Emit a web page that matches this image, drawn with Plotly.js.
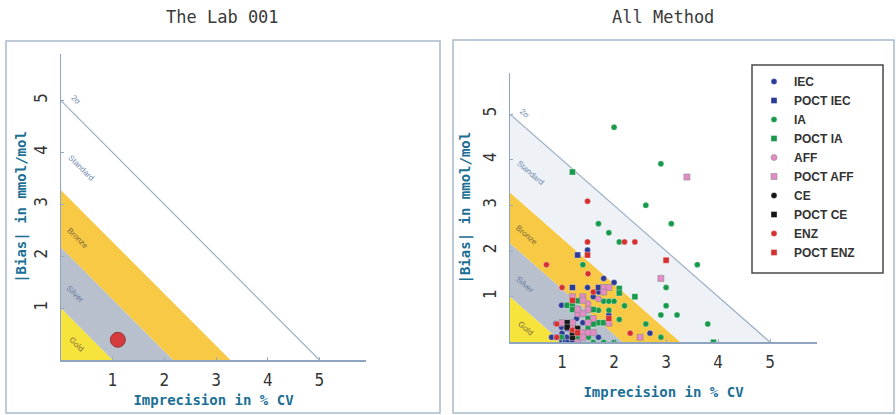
<!DOCTYPE html>
<html><head><meta charset="utf-8">
<script src="https://cdn.plot.ly/plotly-3.0.1.min.js"></script>
<style>body{margin:0;background:#fff}#chart{width:896px;height:415px}</style>
</head><body><div id="chart"></div>
<script>
// ---- data ----
const panelTitles = ["The Lab 001", "All Method"];
const xTitle = "Imprecision in % CV";
const yTitle = "|Bias| in mmol/mol";
const tickVals = [1, 2, 3, 4, 5];
const bandNames = ["Gold", "Silver", "Bronze", "Standard"];
const bandLimits = [1.0, 2.17, 3.28, 5.0];
const sigmaLabel = "2σ";

const labX = [1.10];
const labY = [0.39];

const iecX = [1.49, 1.8, 2.0, 2.69, 1.49, 1.7, 1.6, 0.99, 1.09, 0.88, 0.99, 1.28, 1.4, 0.8, 0.99, 1.09, 1.4, 1.7, 1.9, 1.9, 1.3, 1.0, 1.1, 1.2];
const iecY = [2.02, 1.4, 1.31, 0.2, 1.2, 1.1, 1.0, 0.81, 0.81, 0.41, 0.33, 0.52, 0.43, 0.11, 0.11, 0.11, 0.11, 0.11, 0.6, 0.5, 0.3, 0.2, 0.0, 0.0];
const poctIecX = [1.3, 1.2, 1.7, 0.9, 1.1, 1.0];
const poctIecY = [1.91, 1.2, 1.2, 0.11, 0.3, 0.05];
const iaX = [2.0, 2.9, 2.61, 3.1, 1.7, 1.9, 2.1, 3.6, 1.4, 3.0, 3.0, 2.9, 3.21, 3.8, 2.2, 2.1, 2.61, 2.9, 1.8, 2.0, 1.8, 1.9, 2.0, 1.7, 1.9, 0.99, 1.51, 1.6];
const iaY = [4.71, 3.91, 3.0, 2.6, 2.6, 2.4, 2.2, 1.7, 1.7, 1.2, 0.8, 0.6, 0.6, 0.4, 0.8, 0.5, 0.4, 0.11, 0.0, 0.0, 0.9, 0.9, 0.9, 0.7, 0.7, 0.11, 0.11, 0.0];
const poctIaX = [1.2, 2.1, 2.1, 2.4, 1.1, 1.2, 1.2, 1.3, 1.6, 1.5, 1.7, 1.8, 3.91, 1.3, 1.5, 1.3, 1.6];
const poctIaY = [3.73, 1.18, 1.08, 1.0, 0.81, 0.81, 0.72, 0.91, 0.72, 0.52, 0.43, 0.43, 0.0, 0.11, 0.3, 0.0, 0.4];
const affX = [1.5, 0.98, 1.7, 1.3];
const affY = [0.85, 0.41, 0.95, 0.62];
const poctAffX = [3.4, 2.9, 2.5, 1.8, 1.9, 1.8, 1.2, 1.4, 1.4, 1.3, 1.5, 1.4, 1.6, 1.0, 1.2, 1.5, 1.4, 1.5, 1.6, 1.3, 1.2, 1.4, 1.9];
const poctAffY = [3.62, 1.4, 0.11, 1.2, 1.2, 1.1, 1.0, 1.0, 0.92, 0.72, 0.72, 0.63, 0.52, 0.43, 0.43, 0.43, 0.21, 0.21, 0.21, 0.0, 0.3, 0.11, 0.42];
const ceX = [1.2];
const ceY = [0.15];
const poctCeX = [1.1, 1.1, 1.3, 1.3, 1.2, 1.2];
const poctCeY = [0.43, 0.33, 0.3, 0.2, 0.11, 0.21];
const enzX = [1.49, 1.49, 2.2, 2.4, 0.7, 1.5, 1.0, 2.31, 0.9, 1.6, 0.9, 1.2];
const enzY = [3.09, 2.2, 2.2, 2.2, 1.7, 1.5, 1.2, 0.2, 0.4, 1.1, 0.11, 0.27];
const poctEnzX = [3.0, 1.49, 1.2, 1.9, 1.3];
const poctEnzY = [1.8, 1.91, 0.92, 0.52, 0.21];

const seriesNames = ["IEC", "POCT IEC", "IA", "POCT IA", "AFF", "POCT AFF", "CE", "POCT CE", "ENZ", "POCT ENZ"];

// ---- styles ----
const colBlue = "#2a3b98", colGreen = "#179a4b", colPink = "#e58cc7", colBlack = "#151515", colRed = "#d52f30";
const bandFills = ["#f6e43c", "#b8c0ce", "#f8c944"];
const standardFill = ["#ffffff", "#eef1f6"];
const lineCol = "#9fb0c6";
const labelCols = ["#7d6a3a", "#64789a", "#7d6a3a", "#6f88ad"];

function sc(name, x, y, color, symbol, lineColor) {
  return {
    type: "scatter", mode: "markers", name: name, x: x, y: y,
    xaxis: "x2", yaxis: "y2",
    marker: { color: color, symbol: symbol, size: 6, line: { color: lineColor || "rgba(255,255,255,0.6)", width: 0.6 } }
  };
}

const traces = [
  { type: "scatter", mode: "markers", x: labX, y: labY, xaxis: "x", yaxis: "y", showlegend: false,
    marker: { color: "#d53b3d", size: 15, line: { color: "#8f3a3a", width: 1 } } },
  sc(seriesNames[0], iecX, iecY, colBlue, "circle"),
  sc(seriesNames[1], poctIecX, poctIecY, colBlue, "square"),
  sc(seriesNames[2], iaX, iaY, colGreen, "circle"),
  sc(seriesNames[3], poctIaX, poctIaY, colGreen, "square"),
  sc(seriesNames[4], affX, affY, colPink, "circle", "#8a8a8a"),
  sc(seriesNames[5], poctAffX, poctAffY, colPink, "square", "#8a8a8a"),
  sc(seriesNames[6], ceX, ceY, colBlack, "circle"),
  sc(seriesNames[7], poctCeX, poctCeY, colBlack, "square"),
  sc(seriesNames[8], enzX, enzY, colRed, "circle"),
  sc(seriesNames[9], poctEnzX, poctEnzY, colRed, "square")
];

const shapes = [];
const annotations = [];
const axSets = [["x", "y"], ["x2", "y2"]];
const angles = [45, 41];
const labelPos = [[0.3, 0.3], [0.28, 1.27], [0.33, 2.35], [0.38, 3.71]];
const sigmaPos = [0.28, 5.02];
axSets.forEach(function (ax, p) {
  let lo = 0;
  bandLimits.forEach(function (hi, i) {
    const fill = i < 3 ? bandFills[i] : standardFill[p];
    const path = lo === 0
      ? "M0,0 L" + hi + ",0 L0," + hi + " Z"
      : "M0," + lo + " L" + lo + ",0 L" + hi + ",0 L0," + hi + " Z";
    shapes.push({ type: "path", path: path, xref: ax[0], yref: ax[1], fillcolor: fill, line: { width: 0 }, layer: "below" });
    annotations.push({ xref: ax[0], yref: ax[1], x: labelPos[i][0], y: labelPos[i][1], text: bandNames[i], showarrow: false,
      xanchor: "center", yanchor: "middle",
      textangle: angles[p], font: { family: "Liberation Sans, Arial", size: 8, color: labelCols[i] } });
    lo = hi;
  });
  const top = bandLimits[bandLimits.length - 1];
  shapes.push({ type: "line", xref: ax[0], yref: ax[1], x0: 0, y0: top, x1: top, y1: 0, line: { color: lineCol, width: 1.2 }, layer: "below" });
  annotations.push({ xref: ax[0], yref: ax[1], x: sigmaPos[0], y: sigmaPos[1], text: sigmaLabel, showarrow: false,
    xanchor: "center", yanchor: "middle",
    textangle: angles[p], font: { family: "Liberation Sans, Arial", size: 8, color: labelCols[3] } });
});

// panel frames
shapes.push({ type: "rect", xref: "paper", yref: "paper", x0: 6 / 896, x1: 440 / 896, y0: 1 - 413 / 415, y1: 1 - 41 / 415, line: { color: "#a9b9cb", width: 1.5 } });
shapes.push({ type: "rect", xref: "paper", yref: "paper", x0: 453 / 896, x1: 894 / 896, y0: 1 - 413 / 415, y1: 1 - 40 / 415, line: { color: "#a9b9cb", width: 1.5 } });
// legend box
shapes.push({ type: "rect", xref: "paper", yref: "paper", x0: 752 / 896, x1: 883 / 896, y0: 1 - 273 / 415, y1: 1 - 65 / 415, line: { color: "#4a4a4a", width: 1.5 }, fillcolor: "#ffffff", layer: "below" });

annotations.push({ xref: "paper", yref: "paper", x: 222 / 896, y: 1 - 17 / 415, text: panelTitles[0], showarrow: false,
  xanchor: "center", yanchor: "middle", font: { family: "DejaVu Sans Mono", size: 17, color: "#3a3a3a" } });
annotations.push({ xref: "paper", yref: "paper", x: 663 / 896, y: 1 - 17 / 415, text: panelTitles[1], showarrow: false,
  xanchor: "center", yanchor: "middle", font: { family: "DejaVu Sans Mono", size: 17, color: "#3a3a3a" } });

const tickFont = { family: "Liberation Sans Narrow, DejaVu Sans Condensed, Liberation Sans", size: 17, color: "#333" };
const titleFont = { family: "DejaVu Sans Mono", size: 14, color: "#1b6f95", weight: "bold" };
function xa(dom, anchor, standoff) {
  return { domain: dom, anchor: anchor, range: [0, 5.9], tickvals: tickVals, ticks: "inside", ticklen: 3, tickcolor: "#9aaabf",
    showline: true, linecolor: "#8fa4bf", linewidth: 1.5, showgrid: false, zeroline: false, tickfont: tickFont,
    ticklabelstandoff: 4, title: { text: xTitle, font: titleFont, standoff: standoff }, fixedrange: true };
}
function ya(dom, anchor, standoff) {
  return { domain: dom, anchor: anchor, range: [0, 5.9], tickvals: tickVals, ticks: "inside", ticklen: 3, tickcolor: "#9aaabf",
    showline: true, linecolor: "#8fa4bf", linewidth: 1.5, showgrid: false, zeroline: false, tickfont: tickFont, tickangle: -90,
    ticklabelstandoff: 6, title: { text: yTitle, font: titleFont, standoff: standoff }, fixedrange: true };
}

const layout = {
  width: 896, height: 415, margin: { l: 0, r: 0, t: 0, b: 0 },
  paper_bgcolor: "#ffffff", plot_bgcolor: "rgba(0,0,0,0)",
  showlegend: true,
  legend: { x: 754 / 896, y: 1 - 67 / 415, xanchor: "left", yanchor: "top", bgcolor: "rgba(0,0,0,0)", borderwidth: 0,
    font: { family: "Liberation Sans, Arial", size: 12, color: "#333", weight: "bold" }, tracegroupgap: 0 },
  xaxis: xa([61 / 896, 366 / 896], "y", 6),
  yaxis: ya([1 - 360 / 415, 1 - 54 / 415], "x", 1),
  xaxis2: xa([510 / 896, 817 / 896], "y2", 16),
  yaxis2: ya([1 - 342.3 / 415, 1 - 73 / 415], "x2", 6),
  shapes: shapes,
  annotations: annotations
};

Plotly.newPlot("chart", traces, layout, { displayModeBar: false, staticPlot: true });
</script>
</body></html>
